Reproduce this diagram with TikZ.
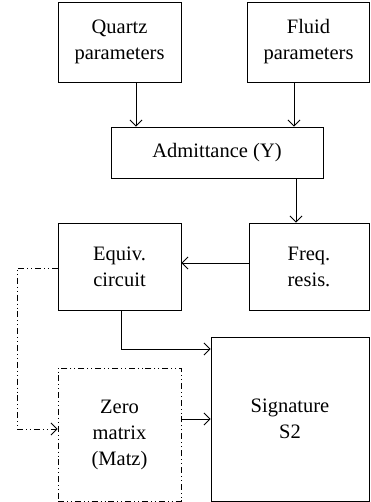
\documentclass[tikz,border=0pt]{standalone}
\usepackage{fontspec}
\setmainfont{Liberation Serif}
\usetikzlibrary{arrows.meta}
\begin{document}
\begin{tikzpicture}[x=1pt,y=-1pt,
  box/.style={draw, line width=0.9pt, align=center, inner sep=0pt, font=\fontsize{20.5}{26}\selectfont},
  ddbox/.style={box, dash pattern=on 6pt off 3pt on 0.9pt off 3pt on 0.9pt off 3pt},
  arr/.style={line width=0.9pt, -{Straight Barb[length=6pt,width=12pt,line width=0.9pt]}},
  ddarr/.style={arr, dash pattern=on 6pt off 3pt on 0.9pt off 3pt on 0.9pt off 3pt}]
\useasboundingbox (0,0) rectangle (370,502);
\node[box, minimum width=123pt, minimum height=80pt] (quartz) at (119.5,42) {Quartz\\parameters};
\node[box, minimum width=122pt, minimum height=80pt] (fluid) at (308.5,42) {Fluid\\parameters};
\node[box, minimum width=212pt, minimum height=51pt] (adm) at (217,152.5) {Admittance (Y)};
\node[box, minimum width=123pt, minimum height=87pt] (equiv) at (119.5,266.5) {Equiv.\\circuit};
\node[box, minimum width=120pt, minimum height=87pt] (freq) at (309,266.5) {Freq.\\resis.};
\node[box, minimum width=158pt, minimum height=164pt] (sig) at (290,419) {Signature\\S2};
\node[ddbox, minimum width=123pt, minimum height=133pt] (zero) at (119.5,434.5) {Zero\\matrix\\(Matz)};
\coordinate (c1) at (17,268);
\coordinate (c2) at (17,429);
\draw[arr] (quartz.south -| 136,0) -- (adm.north -| 136,0);
\draw[arr] (fluid.south -| 294,0) -- (adm.north -| 294,0);
\draw[arr] (adm.south -| 296,0) -- (freq.north -| 296,0);
\draw[arr] (freq.west |- 0,263) -- (equiv.east |- 0,263);
\draw[arr] (equiv.south -| 121,0) |- (sig.west |- 0,349);
\draw[arr] (zero.east |- 0,419) -- (sig.west |- 0,419);
\draw[ddarr] (equiv.west |- 0,268) -- (c1) -- (c2) -- (zero.west |- 0,429);
\end{tikzpicture}
\end{document}
